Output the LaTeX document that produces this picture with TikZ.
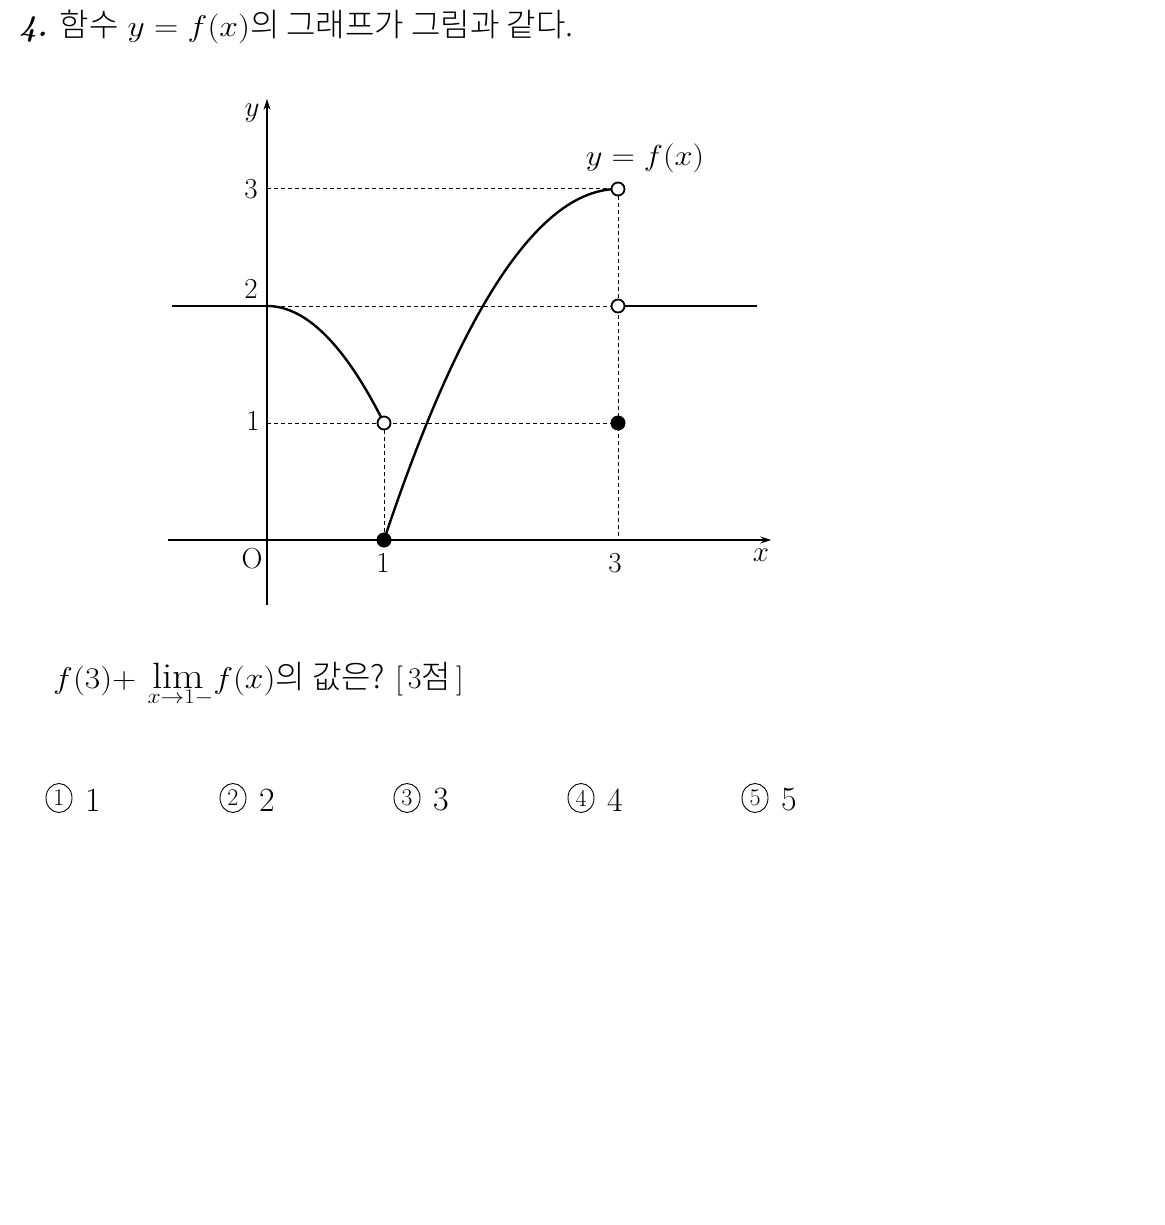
\RequirePackage{fix-cm}
\documentclass[tikz,border=0pt]{standalone}
\usepackage{fontspec}
\newfontfamily\kr{Noto Sans CJK KR}[UprightFont={* Light}]
\usetikzlibrary{arrows.meta}
\newcommand\mx[1]{\scalebox{1.12}[1]{$#1$}}
\newcommand\K[1]{{\fontsize{32}{36}\selectfont\kr #1}}
\newcommand\biglim{\mathop{\scalebox{1.22}{$\mathrm{lim}$}}\limits}
\begin{document}
\begin{tikzpicture}[x=1pt,y=-1pt,
  txt/.style={inner sep=0pt, font=\fontsize{30}{36}\selectfont},
  lbl/.style={inner sep=0pt, font=\fontsize{29}{34}\selectfont},
  small/.style={inner sep=0pt, font=\fontsize{24}{28}\selectfont},
  ans/.style={inner sep=0pt, font=\fontsize{34}{40}\selectfont},
  axisline/.style={line width=1.2pt, -{Stealth[length=11pt,width=7pt]}},
  guide/.style={line width=1pt, dash pattern=on 4pt off 3pt},
  fcurve/.style={line width=2.4pt},
  opendot/.style={circle, draw, fill=white, line width=1.8pt, inner sep=0pt, minimum size=13pt},
  filldot/.style={circle, fill=black, inner sep=0pt, minimum size=15pt},
  ring/.style={line width=0.9pt}]
\useasboundingbox (0,0) rectangle (1164,1225);
\fill[white] (0,0) rectangle (1164,1225);

% title
\node[txt, anchor=base west] (title) at (19,37)
  {{\bfseries\itshape 4.} \K{함수} \mx{y=f(x)}\K{의 그래프가 그림과 같다.}};

\begin{scope}[shift={(267,540)}, x=117pt, y=117pt]
  \coordinate (O) at (0,0);
  \coordinate (xs) at (-0.846,0);
  \coordinate (xe) at (4.31,0);
  \coordinate (ys) at (0,-0.556);
  \coordinate (ye) at (0,3.77);
  \coordinate (y1) at (0,1);
  \coordinate (y2) at (0,2);
  \coordinate (y3) at (0,3);
  \coordinate (x1) at (1,0);
  \coordinate (x3) at (3,0);
  \coordinate (p11) at (1,1);
  \coordinate (p31) at (3,1);
  \coordinate (p32) at (3,2);
  \coordinate (p33) at (3,3);
  \coordinate (lft) at (-0.81,2);
  \coordinate (rgt) at (4.19,2);
  % guides
  \draw[guide] (y3) -- (p33);
  \draw[guide] (y2) -- (p32);
  \draw[guide] (y1) -- (p31);
  \draw[guide] (p11) -- (x1);
  \draw[guide] (p33) -- (x3);
  % axes
  \draw[axisline] (xs) -- (xe);
  \draw[axisline] (ys) -- (ye);
  % graph
  \draw[fcurve] (lft) -- (y2);
  \draw[fcurve] plot[domain=0:1, samples=60] (\x, {2-\x*\x});
  \draw[fcurve] plot[domain=1:3, samples=80] (\x, {3-0.75*(\x-3)*(\x-3)});
  \draw[fcurve] (p32) -- (rgt);
  % dots
  \node[opendot] (d11) at (p11) {};
  \node[opendot] (d33) at (p33) {};
  \node[opendot] (d32) at (p32) {};
  \node[filldot] (d10) at (x1) {};
  \node[filldot] (d31) at (p31) {};
\end{scope}

% axis labels
\node[lbl] (ly) at (252,113) {$y$};
\node[lbl] (l3) at (251,189) {3};
\node[lbl] (l2) at (251,289) {2};
\node[lbl] (l1) at (253,421) {1};
\node[lbl] (lO) at (252,559) {O};
\node[lbl] (lx1) at (383,563) {1};
\node[lbl] (lx3) at (615,563) {3};
\node[lbl] (lx) at (761,555) {$x$};
\node[lbl] (lf) at (645,158) {\mx{y=f(x)}};

% question
\node[txt, anchor=base west] (q) at (53,688)
  {\mx{\displaystyle f(3){+}\,\biglim_{x\to1-}\!f(x)}\K{의 값은?}\hspace{10pt}[\,3\K{점}\,]};

% choices
\foreach \i/\cx in {1/59, 2/233, 3/407, 4/581, 5/755} {
  \node[small] (c\i) at (\cx,798) {\i};
  \draw[ring] (c\i.center) ellipse [x radius=13, y radius=14.5];
  \node[ans] (a\i) at (\cx+34,800) {\i};
}
\end{tikzpicture}
\end{document}
